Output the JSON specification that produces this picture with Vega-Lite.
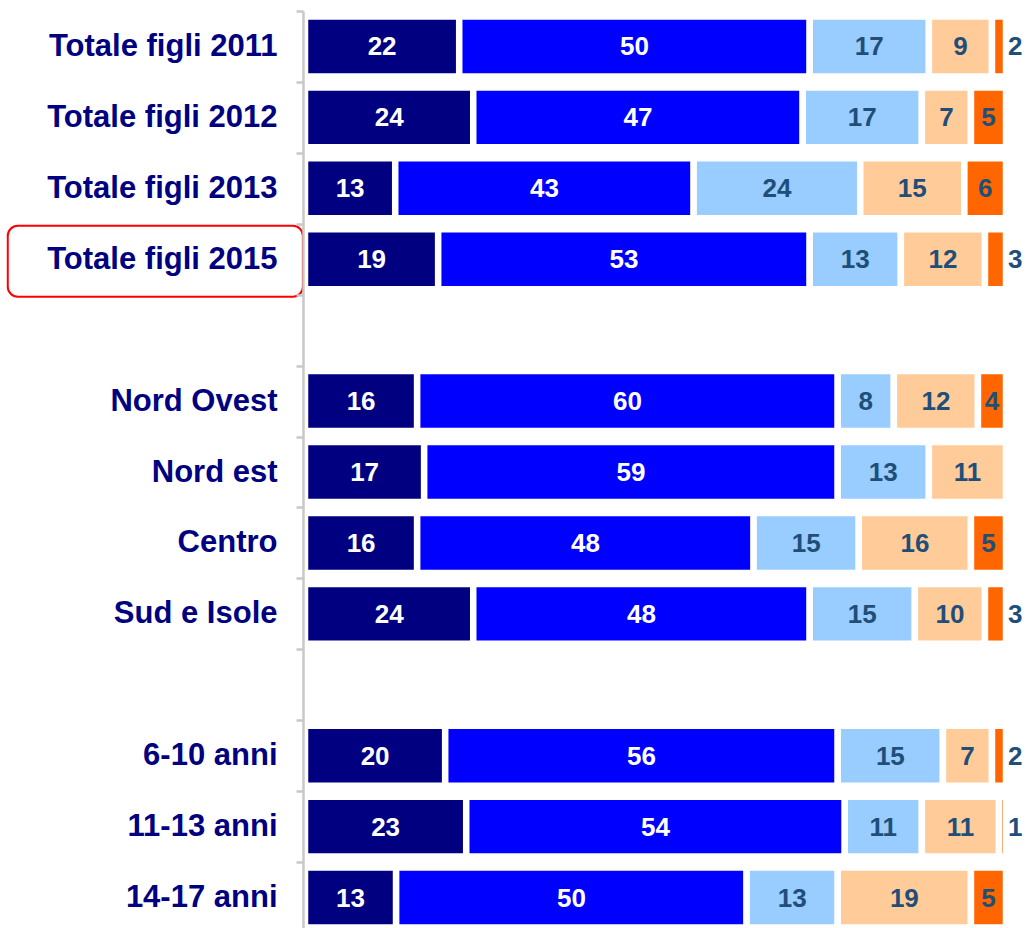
{
  "$schema": "https://vega.github.io/schema/vega-lite/v6.json",
  "width": 701,
  "height": 917,
  "autosize": "none",
  "padding": {"left": 305, "top": 11, "right": 22, "bottom": 0},
  "background": "white",
  "config": {"view": {"stroke": null}, "font": "Liberation Sans"},
  "data": {
    "values": [
      {"g": "Totale figli 2011", "k": 1, "v": 22}, {"g": "Totale figli 2011", "k": 2, "v": 50}, {"g": "Totale figli 2011", "k": 3, "v": 17}, {"g": "Totale figli 2011", "k": 4, "v": 9}, {"g": "Totale figli 2011", "k": 5, "v": 2},
      {"g": "Totale figli 2012", "k": 1, "v": 24}, {"g": "Totale figli 2012", "k": 2, "v": 47}, {"g": "Totale figli 2012", "k": 3, "v": 17}, {"g": "Totale figli 2012", "k": 4, "v": 7}, {"g": "Totale figli 2012", "k": 5, "v": 5},
      {"g": "Totale figli 2013", "k": 1, "v": 13}, {"g": "Totale figli 2013", "k": 2, "v": 43}, {"g": "Totale figli 2013", "k": 3, "v": 24}, {"g": "Totale figli 2013", "k": 4, "v": 15}, {"g": "Totale figli 2013", "k": 5, "v": 6},
      {"g": "Totale figli 2015", "k": 1, "v": 19}, {"g": "Totale figli 2015", "k": 2, "v": 53}, {"g": "Totale figli 2015", "k": 3, "v": 13}, {"g": "Totale figli 2015", "k": 4, "v": 12}, {"g": "Totale figli 2015", "k": 5, "v": 3},
      {"g": "Nord Ovest", "k": 1, "v": 16}, {"g": "Nord Ovest", "k": 2, "v": 60}, {"g": "Nord Ovest", "k": 3, "v": 8}, {"g": "Nord Ovest", "k": 4, "v": 12}, {"g": "Nord Ovest", "k": 5, "v": 4},
      {"g": "Nord est", "k": 1, "v": 17}, {"g": "Nord est", "k": 2, "v": 59}, {"g": "Nord est", "k": 3, "v": 13}, {"g": "Nord est", "k": 4, "v": 11},
      {"g": "Centro", "k": 1, "v": 16}, {"g": "Centro", "k": 2, "v": 48}, {"g": "Centro", "k": 3, "v": 15}, {"g": "Centro", "k": 4, "v": 16}, {"g": "Centro", "k": 5, "v": 5},
      {"g": "Sud e Isole", "k": 1, "v": 24}, {"g": "Sud e Isole", "k": 2, "v": 48}, {"g": "Sud e Isole", "k": 3, "v": 15}, {"g": "Sud e Isole", "k": 4, "v": 10}, {"g": "Sud e Isole", "k": 5, "v": 3},
      {"g": "6-10 anni", "k": 1, "v": 20}, {"g": "6-10 anni", "k": 2, "v": 56}, {"g": "6-10 anni", "k": 3, "v": 15}, {"g": "6-10 anni", "k": 4, "v": 7}, {"g": "6-10 anni", "k": 5, "v": 2},
      {"g": "11-13 anni", "k": 1, "v": 23}, {"g": "11-13 anni", "k": 2, "v": 54}, {"g": "11-13 anni", "k": 3, "v": 11}, {"g": "11-13 anni", "k": 4, "v": 11}, {"g": "11-13 anni", "k": 5, "v": 1},
      {"g": "14-17 anni", "k": 1, "v": 13}, {"g": "14-17 anni", "k": 2, "v": 50}, {"g": "14-17 anni", "k": 3, "v": 13}, {"g": "14-17 anni", "k": 4, "v": 19}, {"g": "14-17 anni", "k": 5, "v": 5}
    ]
  },
  "encoding": {
    "y": {
      "field": "g",
      "type": "nominal",
      "sort": null,
      "scale": {
        "domain": ["Totale figli 2011", "Totale figli 2012", "Totale figli 2013", "Totale figli 2015", " ", "Nord Ovest", "Nord est", "Centro", "Sud e Isole", "  ", "6-10 anni", "11-13 anni", "14-17 anni"],
        "range": [0, 922],
        "paddingInner": 0,
        "paddingOuter": 0
      },
      "axis": {
        "title": null,
        "orient": "left",
        "offset": 2,
        "domainColor": "#C8C8C8",
        "domainWidth": 2.5,
        "tickColor": "#C8C8C8",
        "tickWidth": 2.5,
        "tickSize": 7,
        "tickBand": "extent",
        "labelFont": "Liberation Sans",
        "labelFontSize": 31,
        "labelFontWeight": "bold",
        "labelColor": "#000080",
        "labelPadding": 19,
        "labelLimit": 400,
        "zindex": 1
      }
    }
  },
  "layer": [
    {
      "mark": {"type": "bar", "height": {"band": 0.845}, "stroke": "white", "strokeWidth": 6.5},
      "encoding": {
        "x": {"field": "v", "type": "quantitative", "stack": "normalize", "scale": {"domain": [0, 1]}, "axis": null},
        "color": {
          "field": "k",
          "type": "nominal",
          "scale": {"domain": [1, 2, 3, 4, 5], "range": ["#000080", "#0000FF", "#99CCFF", "#FFCC99", "#FF6600"]},
          "legend": null
        },
        "order": {"field": "k", "type": "quantitative"}
      }
    },
    {
      "mark": {"type": "text", "fontSize": 26, "fontWeight": "bold", "baseline": "middle", "align": "center", "dy": 1, "font": "Liberation Sans"},
      "encoding": {
        "x": {"field": "v", "type": "quantitative", "stack": "normalize", "bandPosition": 0.5},
        "detail": {"field": "k", "type": "nominal"},
        "order": {"field": "k", "type": "quantitative"},
        "text": {"field": "v", "type": "quantitative", "condition": {"test": "datum.v <= 3", "value": ""}},
        "color": {"condition": {"test": "datum.k <= 2", "value": "white"}, "value": "#1F4E79"}
      }
    },
    {
      "mark": {"type": "text", "fontSize": 26, "fontWeight": "bold", "baseline": "middle", "align": "left", "dx": 2, "dy": 1, "font": "Liberation Sans", "color": "#1F4E79"},
      "encoding": {
        "x": {"field": "v", "type": "quantitative", "stack": "normalize"},
        "detail": {"field": "k", "type": "nominal"},
        "order": {"field": "k", "type": "quantitative"},
        "text": {"field": "v", "type": "quantitative", "condition": {"test": "datum.v > 3", "value": ""}}
      }
    },
    {
      "data": {"values": [{}]},
      "mark": {"type": "rect", "filled": false, "stroke": "#FF0000", "strokeWidth": 2, "cornerRadius": 10, "yOffset": 2},
      "encoding": {
        "y": {"datum": "Totale figli 2015", "type": "nominal"},
        "x": {"datum": -0.424, "type": "quantitative"},
        "x2": {"datum": -0.003}
      }
    }
  ]
}
